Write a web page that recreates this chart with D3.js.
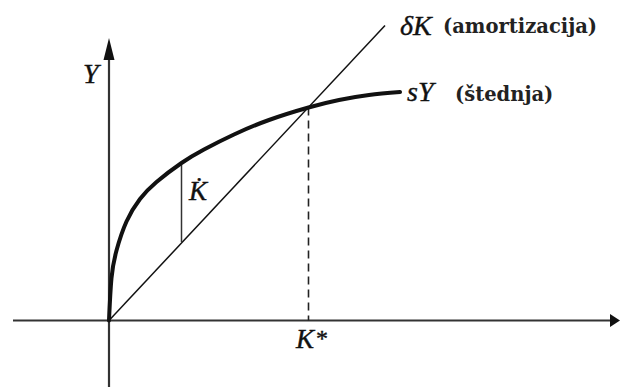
<!DOCTYPE html>
<html>
<head>
<meta charset="utf-8">
<script src="https://cdn.jsdelivr.net/npm/d3@7"></script>
<style>
  body { margin: 0; background: #fff; }
  .math { font-family: "Liberation Serif", serif; font-style: italic; fill: #111; stroke: #111; stroke-width: 0.4px; }
  .word { font-family: "DejaVu Serif", serif; font-weight: bold; fill: #222; }
</style>
</head>
<body>
<div id="chart"></div>
<script>
// capital K (x) and saving sY (y), in arbitrary units
var savingK = [0, 0.5, 1.5, 3.5, 6.2, 9.5, 14.5, 19, 25, 32, 39.9, 46, 52, 58.2];
var savingY = [0, 8.5, 14, 19.8, 24.3, 27.7, 31.5, 34.2, 37.2, 40.1, 42.6, 44.1, 45.1, 45.7];

// depreciation line dK
var deprK = [0, 55.2];
var deprY = [0, 59];

var kStar = 39.9, kStarY = 42.6;
var kDotK = 14.5, kDotTop = 31.1, kDotBottom = 15.7;

var xAxisExtent = [-19.2, 102.2];
var yAxisExtent = [-13.3, 56.5];

var width = 620, height = 387;
var margin = {left: 109, bottom: 66.5};

var x = d3.scaleLinear().domain([0, 100]).range([margin.left, margin.left + 500]);
var y = d3.scaleLinear().domain([0, 50]).range([height - margin.bottom, height - margin.bottom - 250]);

var svg = d3.select('#chart').append('svg')
    .attr('width', width)
    .attr('height', height);

// axes with arrow heads
svg.append('line')
    .attr('x1', x(xAxisExtent[0])).attr('x2', x(xAxisExtent[1]) - 6)
    .attr('y1', y(0)).attr('y2', y(0))
    .attr('stroke', '#333').attr('stroke-width', 2.2);
svg.append('path')
    .attr('d', `M${x(xAxisExtent[1])},${y(0)} L${x(xAxisExtent[1]) - 10},${y(0) - 6.5} L${x(xAxisExtent[1]) - 10},${y(0) + 6.5} Z`)
    .attr('fill', '#111');

svg.append('line')
    .attr('x1', x(0)).attr('x2', x(0))
    .attr('y1', y(yAxisExtent[0])).attr('y2', y(yAxisExtent[1]) + 10)
    .attr('stroke', '#333').attr('stroke-width', 2.2);
svg.append('path')
    .attr('d', `M${x(0)},${y(yAxisExtent[1])} L${x(0) - 5.5},${y(yAxisExtent[1]) + 22} L${x(0) + 5.5},${y(yAxisExtent[1]) + 22} Z`)
    .attr('fill', '#111');

// depreciation line
svg.append('line')
    .attr('x1', x(deprK[0])).attr('y1', y(deprY[0]))
    .attr('x2', x(deprK[1])).attr('y2', y(deprY[1]))
    .attr('stroke', '#111').attr('stroke-width', 1.5);

// K dot segment
svg.append('line')
    .attr('x1', x(kDotK)).attr('x2', x(kDotK))
    .attr('y1', y(kDotTop)).attr('y2', y(kDotBottom))
    .attr('stroke', '#333').attr('stroke-width', 1.5);

// steady state dashed line
svg.append('line')
    .attr('x1', x(kStar)).attr('x2', x(kStar))
    .attr('y1', y(kStarY)).attr('y2', y(0))
    .attr('stroke', '#222').attr('stroke-width', 1.6)
    .attr('stroke-dasharray', '8,5');

// saving curve
svg.append('path')
    .datum(savingK)
    .attr('d', d3.line()
        .x((d, i) => x(savingK[i]))
        .y((d, i) => y(savingY[i]))
        .curve(d3.curveNatural))
    .attr('fill', 'none')
    .attr('stroke', '#111')
    .attr('stroke-width', 4)
    .attr('stroke-linecap', 'round');

// labels
svg.append('text').attr('class', 'math')
    .attr('x', 83).attr('y', 83).style('font-size', '28px').text('Y');

svg.append('text').attr('class', 'math')
    .attr('x', 400).attr('y', 35).style('font-size', '28px').text('δK');
svg.append('text').attr('class', 'word')
    .attr('x', 443).attr('y', 33).style('font-size', '19.5px').text('(amortizacija)');

svg.append('text').attr('class', 'math')
    .attr('x', 407).attr('y', 101).style('font-size', '28px').text('sY');
svg.append('text').attr('class', 'word')
    .attr('x', 455).attr('y', 101).style('font-size', '19.5px').text('(štednja)');

svg.append('text').attr('class', 'math')
    .attr('x', 189).attr('y', 200).style('font-size', '27px').text('K\u0307');

svg.append('text').attr('class', 'math')
    .attr('x', 296).attr('y', 348).style('font-size', '27px').text('K');
svg.append('text').attr('class', 'math')
    .attr('x', 316).attr('y', 346).style('font-size', '24px').style('font-style', 'normal').text('*');
</script>
</body>
</html>
